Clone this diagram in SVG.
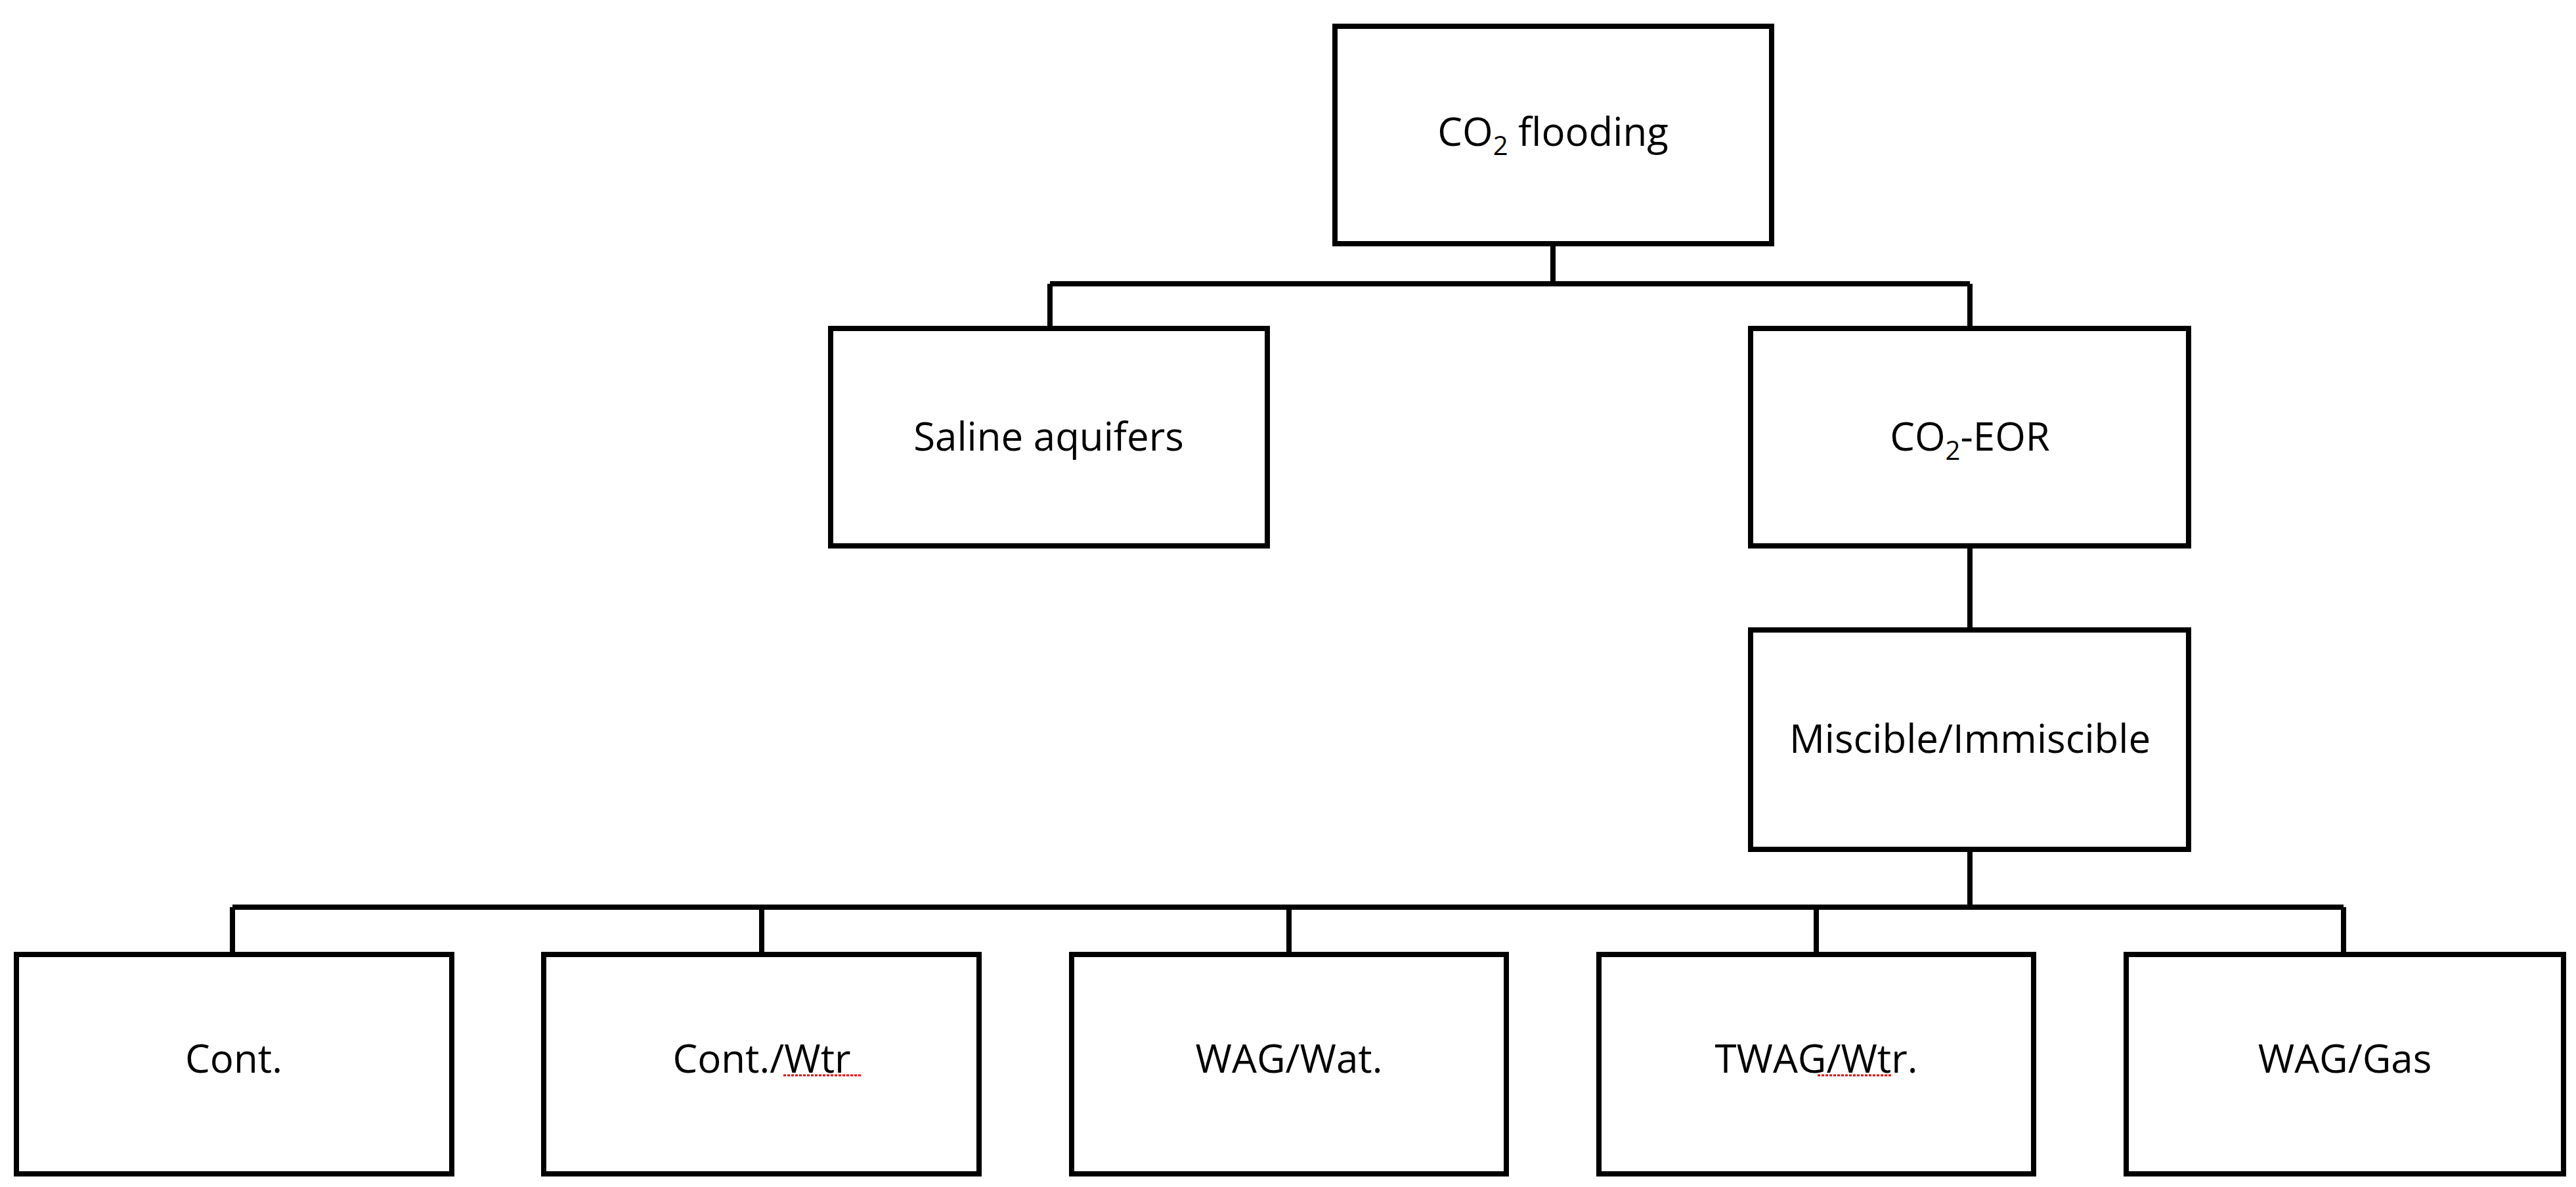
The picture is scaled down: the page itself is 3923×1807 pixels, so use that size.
<svg xmlns="http://www.w3.org/2000/svg" width="3923" height="1807" viewBox="0 0 3923 1807">
<style>
.box{fill:#fff;stroke:#000;stroke-width:8}
.t{font-family:"Open Sans","Liberation Sans",sans-serif;font-size:60px;text-anchor:middle;fill:#000}
.c{fill:none;stroke:#000;stroke-width:8}
.s{font-size:40px}
</style>
<rect width="3923" height="1807" fill="#fff"/>
<g id="connectors">
<path class="c" d="M2365 371V432M1599 432H3000M1599 432V500M3000 432V500"/>
<path class="c" d="M3000 831V959M3000 1293V1381M354 1381H3569"/>
<path class="c" d="M354 1381V1453M1160 1381V1453M1963 1381V1453M2766 1381V1453M3569 1381V1453"/>
</g>
<g id="n1"><rect class="box" x="2033" y="40" width="665" height="331"/><text class="t" x="2365" y="222">CO<tspan class="s" dy="14">2</tspan><tspan dy="-14"> flooding</tspan></text></g>
<g id="n2"><rect class="box" x="1265" y="500" width="665" height="331"/><text class="t" x="1597" y="686">Saline aquifers</text></g>
<g id="n3"><rect class="box" x="2666" y="500" width="667" height="331"/><text class="t" x="3000" y="686">CO<tspan class="s" dy="14">2</tspan><tspan dy="-14">-EOR</tspan></text></g>
<g id="n4"><rect class="box" x="2666" y="959" width="667" height="334"/><text class="t" x="3000" y="1146">Miscible/Immiscible</text></g>
<g id="n5"><rect class="box" x="25" y="1453" width="663" height="334"/><text class="t" x="356" y="1633">Cont.</text></g>
<g id="n6"><rect class="box" x="828" y="1453" width="663" height="334"/><text class="t" x="1160" y="1633">Cont./Wtr</text><path d="M1193 1637H1312" stroke="#e00" stroke-width="3" stroke-dasharray="4 2"/></g>
<g id="n7"><rect class="box" x="1632" y="1453" width="662" height="334"/><text class="t" x="1963" y="1633">WAG/Wat.</text></g>
<g id="n8"><rect class="box" x="2435" y="1453" width="662" height="334"/><text class="t" x="2766" y="1633">TWAG/Wtr.</text><path d="M2768 1637H2880" stroke="#e00" stroke-width="3" stroke-dasharray="4 2"/></g>
<g id="n9"><rect class="box" x="3238" y="1453" width="666" height="334"/><text class="t" x="3571" y="1633">WAG/Gas</text></g>
</svg>
